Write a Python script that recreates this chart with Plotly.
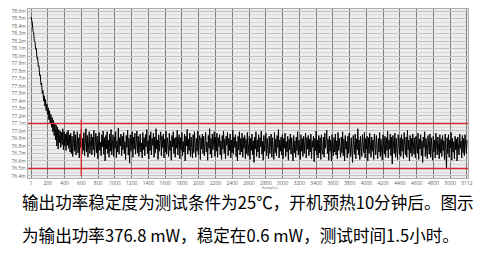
import plotly.graph_objects as go
import numpy as np

# ---- data ----
warmup_mw = [
    78.52, 78.47, 78.44, 78.33, 78.31, 78.20, 78.19, 78.09, 78.10, 77.97,
    77.98, 77.86, 77.87, 77.74, 77.75, 77.62, 77.64, 77.50, 77.54, 77.40,
    77.47, 77.33, 77.42, 77.27, 77.36, 77.22, 77.31, 77.15, 77.27, 77.10,
    77.22, 77.05, 77.18, 76.99, 77.14, 76.94, 77.10, 76.88, 77.08, 76.80,
    77.05, 76.76, 77.02, 76.84, 77.00, 76.78, 76.98, 76.82, 77.03, 76.75,
    76.99, 76.80, 76.96, 76.74, 76.98, 76.81, 77.01, 76.77, 76.95, 76.72,
]
stable_mw = [
    76.97, 76.70, 76.93, 76.66, 76.88, 77.00, 76.73, 76.95, 76.68, 76.84, 76.99, 76.71, 76.91, 76.64, 76.96, 76.78, 77.02, 76.69, 76.90, 76.74,
    76.98, 76.67, 76.86, 77.03, 76.72, 76.94, 76.65, 76.89, 76.99, 76.70, 76.82, 76.96, 76.68, 76.92, 76.75, 77.01, 76.66, 76.87, 76.97, 76.71,
    76.93, 76.63, 76.90, 76.98, 76.74, 76.85, 76.67, 76.95, 76.79, 77.00, 76.69, 76.91, 76.60, 76.94, 76.76, 76.99, 76.70, 76.88, 76.65, 76.96,
    76.73, 77.02, 76.68, 76.89, 76.95, 76.66, 76.92, 76.77, 76.99, 76.64, 76.87, 76.72, 77.04, 76.69, 76.91, 76.80, 76.96, 76.67, 76.93, 76.75,
    76.98, 76.70, 76.86, 76.62, 76.94, 76.78, 77.01, 76.68, 76.90, 76.57, 76.95, 76.73, 76.88, 76.99, 76.65, 76.92, 76.76, 76.97, 76.69, 76.85,
    77.00, 76.71, 76.93, 76.66, 76.89, 76.96, 76.72, 76.84, 76.64, 76.98, 76.75, 76.91, 76.67, 76.95, 76.79, 77.02, 76.70, 76.87, 76.63, 76.94,
    76.74, 76.99, 76.68, 76.90, 76.81, 76.97, 76.65, 76.92, 76.71, 77.03, 76.76, 76.88, 76.62, 76.95, 76.73, 76.86, 76.99, 76.67, 76.93, 76.78,
    76.96, 76.64, 76.89, 76.72, 77.00, 76.69, 76.91, 76.83, 76.66, 76.97, 76.74, 76.87, 76.61, 76.94, 76.79, 76.99, 76.70, 76.90, 76.65, 76.92,
    76.77, 77.01, 76.68, 76.88, 76.95, 76.63, 76.91, 76.75, 76.98, 76.67, 76.86, 76.72, 76.96, 76.60, 76.93, 76.80, 77.02, 76.69, 76.89, 76.74,
    76.97, 76.66, 76.92, 76.78, 76.64, 76.95, 76.71, 76.99, 76.82, 76.65, 76.90, 76.73, 77.00, 76.68, 76.87, 76.94, 76.62, 76.91, 76.76, 76.96,
    76.70, 76.93, 76.67, 76.89, 76.98, 76.72, 76.85, 76.61, 76.94, 76.77, 77.03, 76.69, 76.90, 76.64, 76.96, 76.75, 76.88, 76.99, 76.66, 76.92,
    76.73, 76.97, 76.65, 76.91, 76.79, 76.95, 76.68, 76.87, 76.62, 76.94, 76.76, 77.00, 76.70, 76.89, 76.63, 76.93, 76.81, 76.98, 76.67, 76.90,
    76.74, 76.96, 76.64, 76.88, 76.71, 77.01, 76.69, 76.92, 76.78, 76.95, 76.66, 76.86, 76.60, 76.93, 76.75, 76.99, 76.68, 76.90, 76.72, 76.97,
    76.65, 76.91, 76.77, 76.94, 76.63, 76.89, 76.70, 76.98, 76.67, 76.85, 76.93, 76.62, 76.90, 76.74, 76.96, 76.68, 76.87, 76.58, 76.92, 76.76,
    76.99, 76.66, 76.88, 76.72, 76.95, 76.64, 76.91, 76.79, 77.00, 76.69, 76.86, 76.61, 76.94, 76.73, 76.89, 76.97, 76.67, 76.90, 76.75, 76.63,
    76.93, 76.70, 76.87, 76.96, 76.65, 76.91, 76.76, 76.62, 76.98, 76.71, 76.89, 76.67, 76.94, 76.78, 77.02, 76.64, 76.88, 76.73, 76.92, 76.68,
    76.95, 76.63, 76.90, 76.77, 76.97, 76.66, 76.86, 76.72, 76.93, 76.61, 76.89, 76.75, 76.96, 76.69, 76.91, 76.80, 76.60, 76.94, 76.71, 76.87,
    76.65, 76.92, 76.74, 76.99, 76.68, 76.88, 76.79, 76.62, 76.95, 76.73, 76.90, 76.66, 76.93, 76.70, 76.86, 76.97, 76.64, 76.91, 76.76, 76.94,
    76.67, 76.89, 76.72, 76.96, 76.63, 76.87, 76.78, 76.93, 76.59, 76.90, 76.74, 77.00, 76.68, 76.88, 76.64, 76.94, 76.71, 76.91, 76.62, 76.95,
    76.75, 76.69, 76.92, 76.65, 76.97, 76.77, 76.86, 77.01, 76.70, 76.89, 76.61, 76.93, 76.73, 76.88, 76.60, 76.95, 76.76, 76.67, 76.91, 76.72,
    76.96, 76.68, 76.87, 76.63, 76.98, 76.74, 76.90, 76.79, 76.65, 76.92, 76.71, 76.99, 76.67, 76.89, 76.60, 76.94, 76.76, 76.86, 76.64, 76.93,
    76.70, 76.97, 76.73, 76.66, 76.91, 76.78, 76.58, 76.94, 76.81, 76.69, 76.96, 76.63, 76.89, 76.75, 77.03, 76.68, 76.88, 76.62, 76.93, 76.77,
    76.66, 76.95, 76.79, 76.71, 76.98, 76.64, 76.90, 76.76, 76.93, 76.60, 76.91, 76.70, 76.97, 76.78, 76.65, 76.92, 76.73, 76.88, 76.62, 76.96,
    76.77, 76.68, 76.94, 76.81, 76.63, 76.90, 76.72, 76.98, 76.66, 76.89, 76.76, 76.61, 76.95, 76.79, 76.69, 76.93, 76.65, 76.91, 76.74, 77.00,
    76.64, 76.88, 76.76, 76.96, 76.67, 76.92, 76.56, 76.94, 76.78, 76.70, 76.97, 76.65, 76.90, 76.77, 76.62, 76.95, 76.81, 76.69, 76.91, 76.66,
    76.95, 76.73, 76.89, 76.63, 76.98, 76.78, 76.68, 76.92, 76.65, 77.01, 76.75, 76.88, 76.60, 76.94, 76.71, 76.90, 76.66, 76.96, 76.77, 76.69,
    76.91, 76.64, 76.93, 76.79, 76.70, 76.97, 76.62, 76.89, 76.76, 76.95, 76.67, 76.87, 76.58, 76.92, 76.78, 76.99, 76.66, 76.90, 76.73, 76.63,
    76.94, 76.80, 76.69, 76.96, 76.65, 76.91, 76.77, 76.61, 76.93, 76.72, 76.88, 76.64, 76.97, 76.75, 76.68, 76.92, 76.79, 76.63, 76.95, 76.71,
    76.89, 76.66, 76.94, 76.74, 76.87, 76.62, 76.96, 76.76, 76.50, 76.91, 76.70, 76.95, 76.65, 76.88, 76.78, 76.98, 76.61, 76.90, 76.72, 76.86,
    76.63, 76.93, 76.75, 76.89, 76.60, 76.92, 76.79, 76.68, 76.96, 76.77, 76.87, 76.64, 76.94, 76.71, 76.90, 76.67, 76.95, 76.78, 76.70, 76.88,
]
x_tick_vals = list(range(0, 5201, 200))
x_tick_text = ["1"] + [str(v) for v in range(200, 5001, 200)] + ["5112"]
y_tick_vals = [round(76.4 + 0.1 * i, 1) for i in range(23)]
y_tick_text = [f"{v:.1f}m" for v in y_tick_vals]
upper_limit = 77.1
lower_limit = 76.5
marker_sample = 600
caption_line1 = "输出功率稳定度为测试条件为25℃，开机预热10分钟后。图示"
caption_line2 = "为输出功率376.8 mW，稳定在0.6 mW，测试时间1.5小时。"

power_mw = warmup_mw + stable_mw
x_axis_end = 5200
samples = np.linspace(0, x_axis_end, len(power_mw))

fig = go.Figure()
fig.add_trace(go.Scatter(x=samples, y=power_mw, mode="lines",
                         line=dict(color="#000000", width=1.0),
                         hoverinfo="skip", showlegend=False))

red = "#d42a32"
for lvl in (upper_limit, lower_limit):
    fig.add_shape(type="line", xref="paper", x0=0, x1=1, yref="y",
                  y0=lvl, y1=lvl, line=dict(color=red, width=1.6), layer="above")
fig.add_shape(type="line", xref="x", x0=marker_sample, x1=marker_sample,
              yref="y", y0=76.4, y1=upper_limit + 0.05,
              line=dict(color=red, width=1.4), layer="above")

fig.update_layout(
    width=495, height=257,
    margin=dict(l=28, r=27, t=9, b=79),
    paper_bgcolor="white",
    plot_bgcolor="#ececec",
    showlegend=False,
    xaxis=dict(range=[-36, 5212], tickvals=x_tick_vals, ticktext=x_tick_text,
               showgrid=True, gridcolor="#7e7e7e", gridwidth=1,
               tickfont=dict(size=5, color="#666666", family="Open Sans"),
               ticks="", ticklen=0,
               zeroline=False, showline=True, linecolor="#b0b0b0", mirror=True),
    yaxis=dict(range=[76.373, 78.627], tickvals=y_tick_vals, ticktext=y_tick_text,
               showgrid=True, gridcolor="#c2c2c2", gridwidth=1,
               minor=dict(dtick=0.05, showgrid=True, gridcolor="#dadada"),
               tickfont=dict(size=5, color="#666666", family="Open Sans"),
               ticks="", zeroline=False, showline=True, linecolor="#b0b0b0",
               mirror=True),
)

fig.add_annotation(text="Samples", xref="paper", yref="paper", x=0.55, y=-0.057,
                   showarrow=False, font=dict(size=4, color="#666666", family="Open Sans"),
                   xanchor="center", yanchor="middle")
for txt, yy in ((caption_line1, -0.142), (caption_line2, -0.34)):
    fig.add_annotation(text=txt, xref="paper", yref="paper", x=-0.018, y=yy,
                       showarrow=False, xanchor="left", yanchor="middle",
                       font=dict(size=16.6, color="#000000", family="Noto Sans CJK SC"))

fig.write_html("out.html")
